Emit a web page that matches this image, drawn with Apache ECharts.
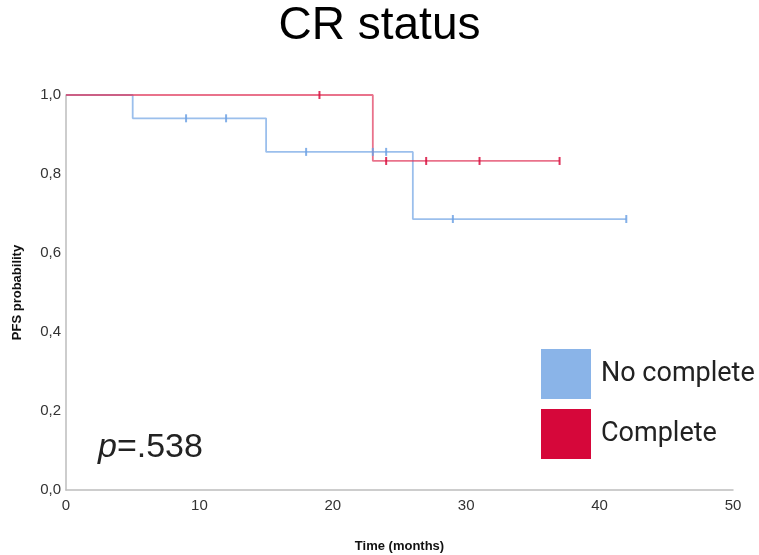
<!DOCTYPE html>
<html>
<head>
<meta charset="utf-8">
<script src="https://cdn.jsdelivr.net/npm/echarts@6/dist/echarts.min.js"></script>
<style>
html, body { margin: 0; padding: 0; background: #fff; }
#chart { width: 759px; height: 555px; }
</style>
</head>
<body>
<div id="chart"></div>
<script>
// Kaplan-Meier steps (time in months, PFS probability)
var noCompleteTimes = [0, 5, 15, 26, 42];
var noCompleteSurv = [1.0, 0.941, 0.856, 0.686, 0.686];
var noCompleteCensor = [9, 12, 18, 23, 24, 29, 42];

var completeTimes = [0, 23, 37];
var completeSurv = [1.0, 0.833, 0.833];
var completeCensor = [19, 24, 27, 31, 37];

function stepPoints(times, surv) {
    var pts = [];
    for (var i = 0; i < times.length; i++) {
        pts.push([times[i], surv[i]]);
    }
    return pts;
}

function survAt(times, surv, t) {
    var v = surv[0];
    for (var i = 0; i < times.length; i++) {
        if (times[i] <= t) v = surv[i];
    }
    return v;
}

function censorPoints(times, surv, censor) {
    var pts = [];
    for (var i = 0; i < censor.length; i++) {
        pts.push([censor[i], survAt(times, surv, censor[i])]);
    }
    return pts;
}

var chart = echarts.init(document.getElementById('chart'));
var option = {
    animation: false,
    title: {
        text: 'CR status',
        left: 'center',
        top: -2,
        textStyle: {
            fontFamily: 'Liberation Sans',
            fontSize: 46,
            fontWeight: 'normal',
            color: '#000'
        }
    },
    grid: {
        left: 66,
        right: 26,
        top: 95,
        bottom: 65,
        outerBoundsMode: 'none'
    },
    xAxis: {
        type: 'value',
        min: 0,
        max: 50,
        interval: 10,
        name: 'Time (months)',
        nameLocation: 'middle',
        nameGap: 50,
        nameTextStyle: {
            fontFamily: 'Liberation Sans',
            fontSize: 13,
            fontWeight: 'bold',
            color: '#111'
        },
        axisLine: { lineStyle: { color: '#bdbdbd', width: 1.5 } },
        axisTick: { show: false },
        splitLine: { show: false },
        axisLabel: {
            margin: 8,
            fontFamily: 'Liberation Sans',
            fontSize: 15,
            color: '#333'
        }
    },
    yAxis: {
        type: 'value',
        min: 0,
        max: 1,
        interval: 0.2,
        name: 'PFS probability',
        nameLocation: 'middle',
        nameGap: 42,
        nameRotate: 90,
        nameTextStyle: {
            fontFamily: 'Liberation Sans',
            fontSize: 13,
            fontWeight: 'bold',
            color: '#111'
        },
        axisLine: { show: true, lineStyle: { color: '#bdbdbd', width: 1.5 } },
        axisTick: { show: false },
        splitLine: { show: false },
        axisLabel: {
            margin: 5,
            fontFamily: 'Liberation Sans',
            fontSize: 15,
            color: '#333',
            formatter: function (v) {
                return v.toFixed(1).replace('.', ',');
            }
        }
    },
    legend: {
        orient: 'vertical',
        left: 541,
        top: 349,
        padding: 0,
        itemWidth: 50,
        itemHeight: 50,
        itemGap: 10,
        icon: 'rect',
        data: ['No complete', 'Complete'],
        textStyle: {
            fontFamily: 'Roboto',
            fontSize: 27,
            color: '#222',
            padding: [10, 0, 0, 5]
        }
    },
    graphic: [{
        type: 'text',
        left: 98,
        top: 431,
        style: {
            text: '{i|p}=.538',
            fontFamily: 'Liberation Sans',
            fontSize: 34,
            fill: '#222',
            rich: {
                i: {
                    fontFamily: 'Liberation Sans',
                    fontSize: 34,
                    fontStyle: 'italic',
                    color: '#222'
                }
            }
        }
    }],
    series: [{
        name: 'No complete',
        type: 'line',
        step: 'end',
        showSymbol: false,
        data: stepPoints(noCompleteTimes, noCompleteSurv),
        itemStyle: { color: '#8ab4e8' },
        lineStyle: { color: '#7aa9e6', width: 1.8, opacity: 0.75 },
        z: 2
    }, {
        name: 'Complete',
        type: 'line',
        step: 'end',
        showSymbol: false,
        data: stepPoints(completeTimes, completeSurv),
        itemStyle: { color: '#d6073a' },
        lineStyle: { color: '#e0365a', width: 1.8, opacity: 0.7 },
        z: 3
    }, {
        name: 'No complete',
        type: 'scatter',
        symbol: 'rect',
        symbolSize: [2, 8],
        data: censorPoints(noCompleteTimes, noCompleteSurv, noCompleteCensor),
        itemStyle: { color: '#6fa2e4', opacity: 0.85 },
        z: 4
    }, {
        name: 'Complete',
        type: 'scatter',
        symbol: 'rect',
        symbolSize: [2, 8],
        data: censorPoints(completeTimes, completeSurv, completeCensor),
        itemStyle: { color: '#d8103f', opacity: 0.85 },
        z: 5
    }]
};
chart.setOption(option);
</script>
</body>
</html>
